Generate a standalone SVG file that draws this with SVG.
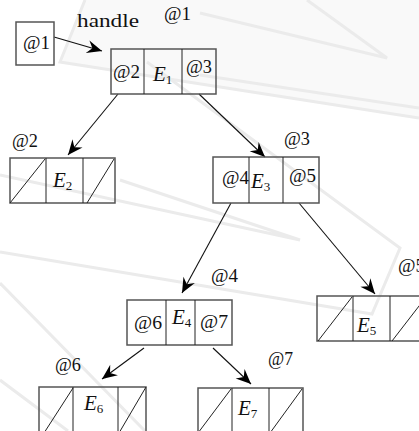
<svg xmlns="http://www.w3.org/2000/svg" width="419" height="431" viewBox="0 0 419 431">
  <style>
    .lbl { font-family: "Liberation Serif", "DejaVu Serif", serif; font-size: 19px; fill: #111; }
    .ent { font-family: "Liberation Serif", "DejaVu Serif", serif; font-size: 21px; font-style: italic; fill: #111; }
    .sub { font-size: 13px; font-style: normal; }
    .box { fill: none; stroke: #555; stroke-width: 1.5; }
    .div { stroke: #222; stroke-width: 1; }
    .nil { stroke: #222; stroke-width: 1; }
    .edge { stroke: #111; stroke-width: 1.1; fill: none; marker-end: url(#stealth); }
    .wm { fill: none; stroke: #ebebeb; stroke-width: 3; }
  </style>
  <defs>
    <marker id="stealth" markerUnits="userSpaceOnUse" markerWidth="20" markerHeight="16" viewBox="-16 -8 18 16" refX="0" refY="0" orient="auto">
      <path d="M0,0 L-15,-6.5 L-10,0 L-15,6.5 Z" fill="#000"/>
    </marker>
  </defs>

  <rect width="419" height="431" fill="#fff"/>

  <!-- faint background pattern -->
  <g id="background">
    <path d="M85,0 L60,62 L419,118 L419,0 Z" fill="#f9f9f9" stroke="none"/>
    <path class="wm" d="M85,0 L60,62 L419,118"/>
    <path class="wm" d="M307,0 L387,58 L200,13"/>
    <path class="wm" d="M200,75 L419,108"/>
    <path class="wm" d="M147,62 L400,248 L372,314 L0,252"/>
    <path class="wm" d="M0,175 L300,240 L120,180"/>
    <path class="wm" d="M0,283 L145,431"/>
    <path class="wm" d="M0,380 L68,431"/>
  </g>

  <!-- connectors -->
  <g id="connectors">
    <line class="edge" x1="54" y1="37" x2="102" y2="51"/>
    <line class="edge" x1="118" y1="94" x2="68" y2="155"/>
    <line class="edge" x1="199" y1="94" x2="265" y2="157"/>
    <line class="edge" x1="231" y1="203" x2="182" y2="293"/>
    <line class="edge" x1="299" y1="203" x2="375" y2="294"/>
    <line class="edge" x1="144" y1="348" x2="102" y2="379"/>
    <line class="edge" x1="213" y1="348" x2="251" y2="384"/>
    <text class="lbl" x="77" y="27" font-size="20" textLength="62" lengthAdjust="spacingAndGlyphs">handle</text>
  </g>

  <!-- handle cell -->
  <g id="handle">
    <rect class="box" x="16" y="22" width="38" height="43"/>
    <text class="lbl" x="23" y="49" textLength="27" lengthAdjust="spacingAndGlyphs">@1</text>
  </g>

  <!-- node @1 -->
  <g id="n1">
    <text class="lbl" x="164" y="20" textLength="27" lengthAdjust="spacingAndGlyphs">@1</text>
    <rect class="box" x="111" y="49" width="105" height="45"/>
    <line class="div" x1="144" y1="49" x2="144" y2="94"/>
    <line class="div" x1="182" y1="49" x2="182" y2="94"/>
    <text class="lbl" x="113" y="78" textLength="27" lengthAdjust="spacingAndGlyphs">@2</text>
    <text class="ent" x="153" y="81">E<tspan class="sub" dy="3">1</tspan></text>
    <text class="lbl" x="186" y="73" textLength="26" lengthAdjust="spacingAndGlyphs">@3</text>
  </g>

  <!-- node @2 -->
  <g id="n2">
    <text class="lbl" x="12" y="147" textLength="26" lengthAdjust="spacingAndGlyphs">@2</text>
    <rect class="box" x="10" y="158" width="105" height="45"/>
    <line class="div" x1="46" y1="158" x2="46" y2="203"/>
    <line class="div" x1="83" y1="158" x2="83" y2="203"/>
    <line class="nil" x1="10" y1="203" x2="45" y2="159"/>
    <line class="nil" x1="87" y1="203" x2="114" y2="159"/>
    <text class="ent" x="53" y="187">E<tspan class="sub" dy="3">2</tspan></text>
  </g>

  <!-- node @3 -->
  <g id="n3">
    <text class="lbl" x="284" y="145" textLength="26" lengthAdjust="spacingAndGlyphs">@3</text>
    <rect class="box" x="213" y="157" width="106" height="46"/>
    <line class="div" x1="249" y1="157" x2="249" y2="203"/>
    <line class="div" x1="283" y1="157" x2="283" y2="203"/>
    <text class="lbl" x="222" y="184" textLength="27" lengthAdjust="spacingAndGlyphs">@4</text>
    <text class="ent" x="251" y="188">E<tspan class="sub" dy="3">3</tspan></text>
    <text class="lbl" x="289" y="182" textLength="27" lengthAdjust="spacingAndGlyphs">@5</text>
  </g>

  <!-- node @4 -->
  <g id="n4">
    <text class="lbl" x="211" y="282" textLength="27" lengthAdjust="spacingAndGlyphs">@4</text>
    <rect class="box" x="127" y="300" width="105" height="45"/>
    <line class="div" x1="166" y1="300" x2="166" y2="345"/>
    <line class="div" x1="195" y1="300" x2="195" y2="345"/>
    <text class="lbl" x="134" y="329" textLength="28" lengthAdjust="spacingAndGlyphs">@6</text>
    <text class="ent" x="172" y="324">E<tspan class="sub" dy="3">4</tspan></text>
    <text class="lbl" x="200" y="328" textLength="28" lengthAdjust="spacingAndGlyphs">@7</text>
  </g>

  <!-- node @5 -->
  <g id="n5">
    <text class="lbl" x="398" y="272" textLength="27" lengthAdjust="spacingAndGlyphs">@5</text>
    <rect class="box" x="317" y="296" width="110" height="45"/>
    <line class="div" x1="353" y1="296" x2="353" y2="341"/>
    <line class="div" x1="390" y1="296" x2="390" y2="341"/>
    <line class="nil" x1="318" y1="341" x2="352" y2="297"/>
    <line class="nil" x1="392" y1="341" x2="426" y2="297"/>
    <text class="ent" x="357" y="332">E<tspan class="sub" dy="3">5</tspan></text>
  </g>

  <!-- node @6 -->
  <g id="n6">
    <text class="lbl" x="55" y="371" textLength="26" lengthAdjust="spacingAndGlyphs">@6</text>
    <rect class="box" x="39" y="387" width="107" height="46"/>
    <line class="div" x1="73" y1="387" x2="73" y2="433"/>
    <line class="div" x1="118" y1="387" x2="118" y2="433"/>
    <line class="nil" x1="44" y1="433" x2="73" y2="388"/>
    <line class="nil" x1="119" y1="433" x2="146" y2="387"/>
    <text class="ent" x="84" y="410">E<tspan class="sub" dy="3">6</tspan></text>
  </g>

  <!-- node @7 -->
  <g id="n7">
    <text class="lbl" x="268" y="365" textLength="25" lengthAdjust="spacingAndGlyphs">@7</text>
    <rect class="box" x="198" y="388" width="105" height="46"/>
    <line class="div" x1="232" y1="388" x2="232" y2="434"/>
    <line class="div" x1="269" y1="388" x2="269" y2="434"/>
    <line class="nil" x1="198" y1="433" x2="231" y2="389"/>
    <line class="nil" x1="270" y1="433" x2="302" y2="389"/>
    <text class="ent" x="238" y="415">E<tspan class="sub" dy="3">7</tspan></text>
  </g>
</svg>
